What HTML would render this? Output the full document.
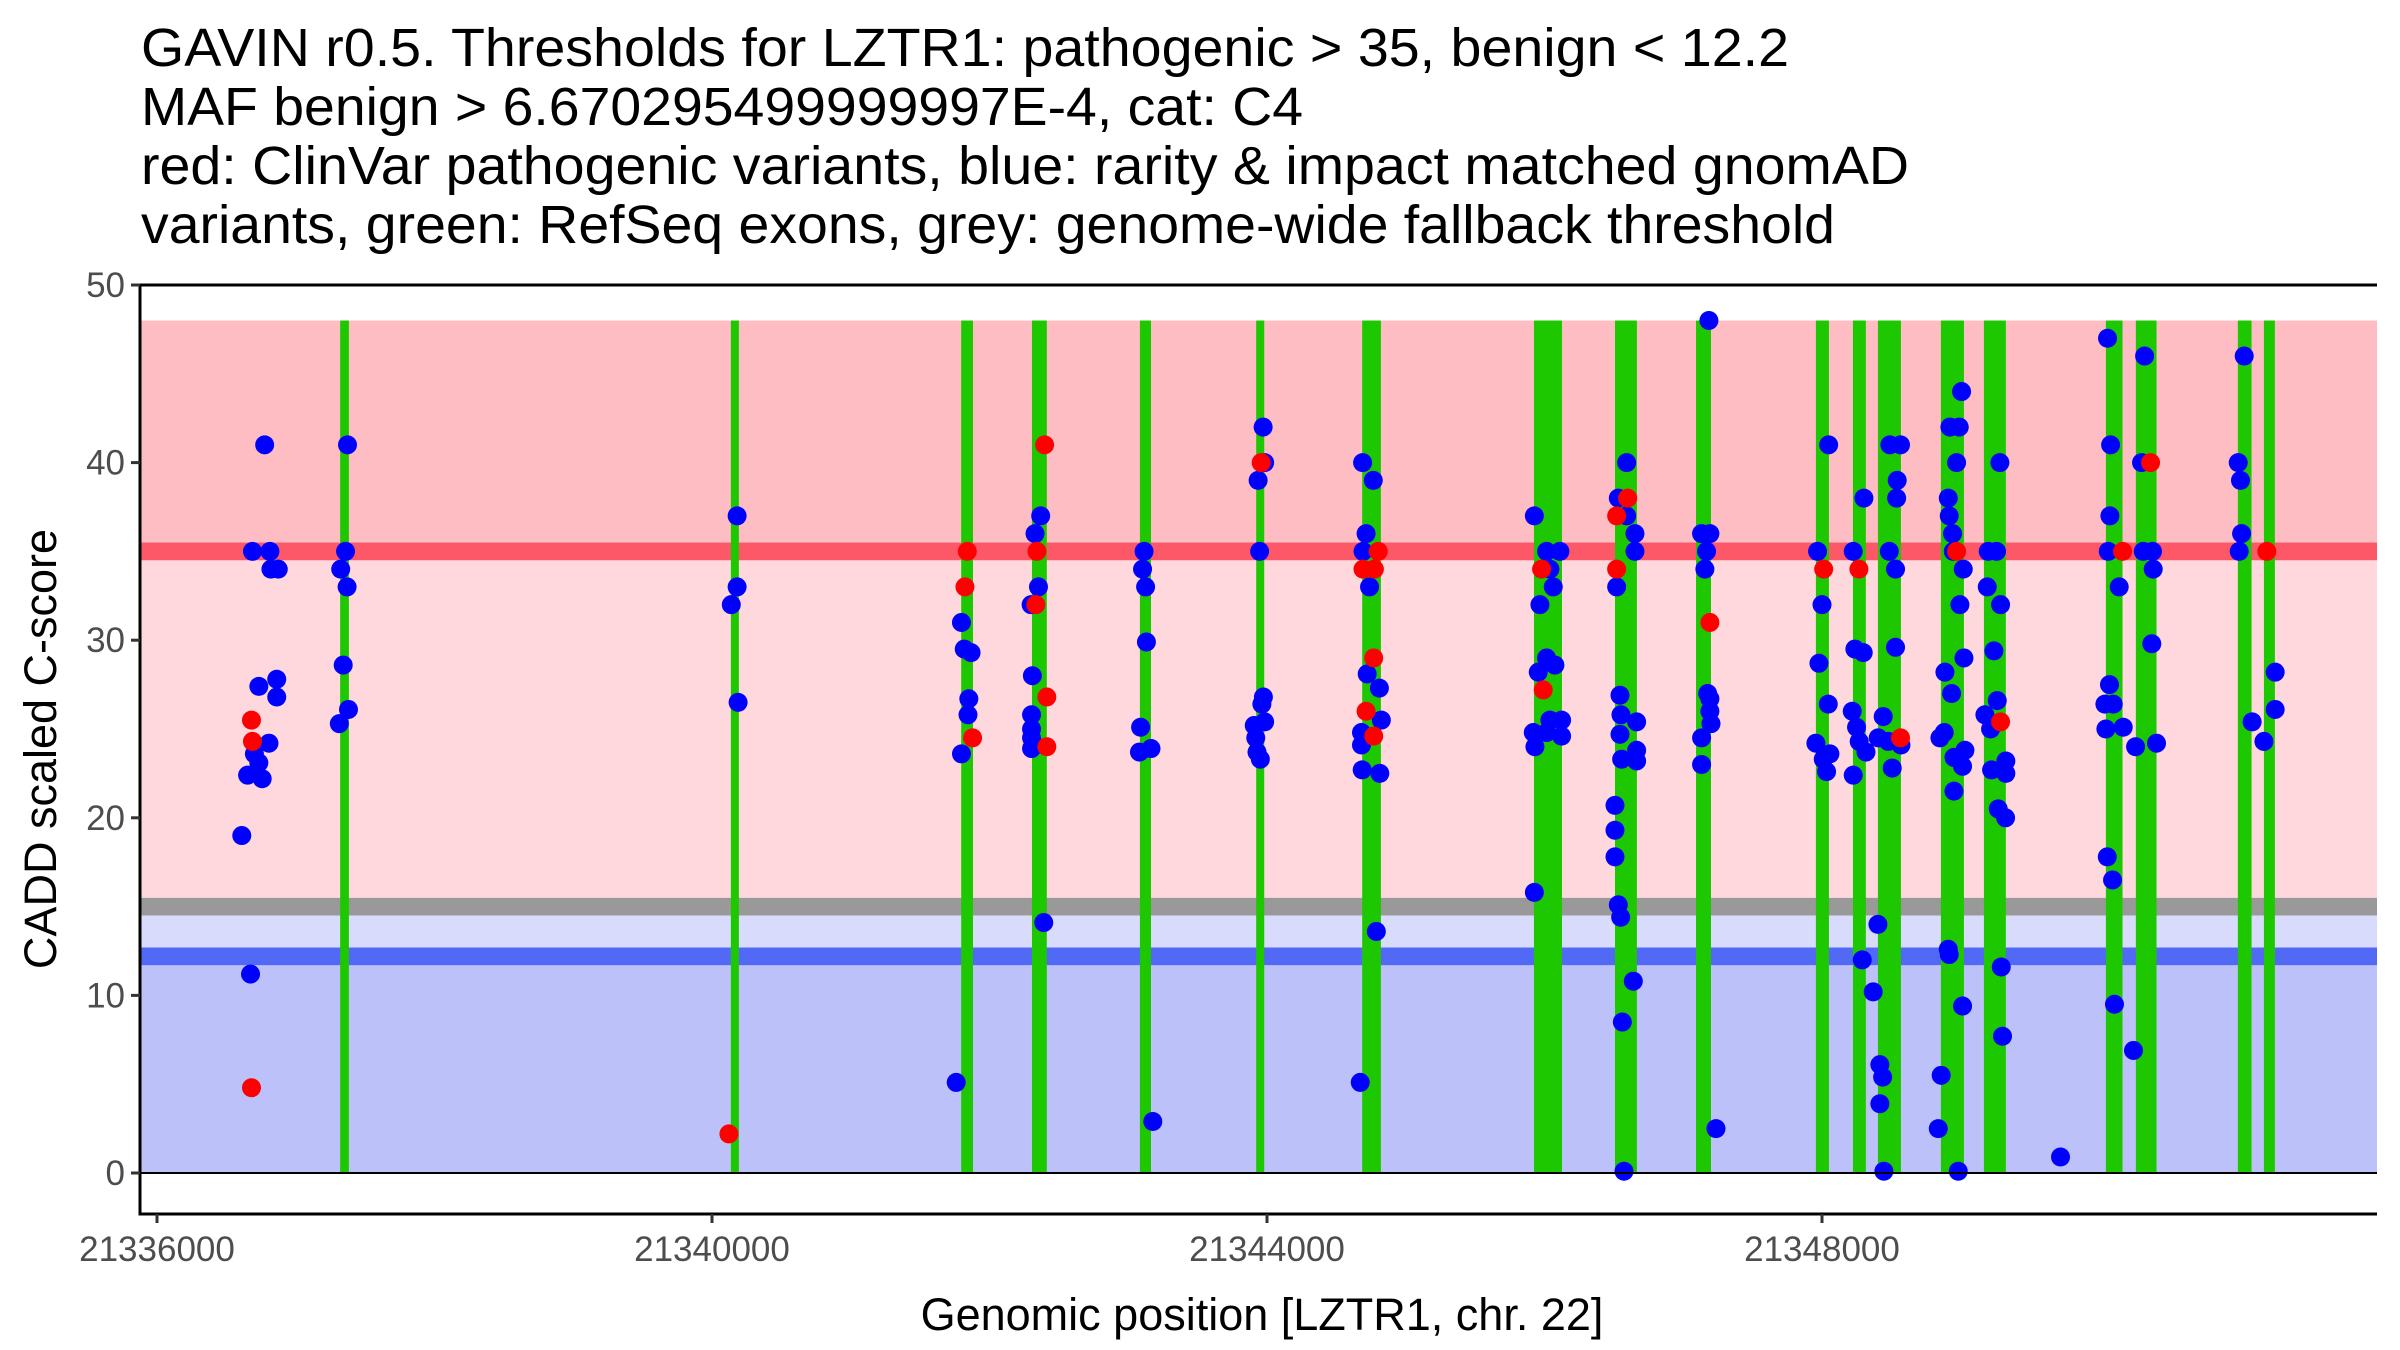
<!DOCTYPE html>
<html><head><meta charset="utf-8"><style>
html,body{margin:0;padding:0;background:#fff;}
svg{display:block;font-family:"Liberation Sans",Arial,sans-serif;}
</style></head><body>
<svg id="chart" width="2400" height="1350" viewBox="0 0 2400 1350">
<g font-size="54" fill="#000">
<text x="141" y="66" textLength="1648" lengthAdjust="spacingAndGlyphs">GAVIN r0.5. Thresholds for LZTR1: pathogenic &gt; 35, benign &lt; 12.2</text>
<text x="141" y="125" textLength="1162" lengthAdjust="spacingAndGlyphs">MAF benign &gt; 6.670295499999997E-4, cat: C4</text>
<text x="141" y="184" textLength="1768" lengthAdjust="spacingAndGlyphs">red: ClinVar pathogenic variants, blue: rarity &amp; impact matched gnomAD</text>
<text x="141" y="243" textLength="1694" lengthAdjust="spacingAndGlyphs">variants, green: RefSeq exons, grey: genome-wide fallback threshold</text>
</g>
<g id="bands"></g><g id="exons"></g><g id="pts"></g><g id="axes"></g>
<text x="1262" y="1330" font-size="45" text-anchor="middle" fill="#000">Genomic position [LZTR1, chr. 22]</text>
<text transform="translate(56,749) rotate(-90)" font-size="45" text-anchor="middle" fill="#000">CADD scaled C-score</text>
</svg>
<script>
const B=21336000;
const exonStart=[1320,4136,5796,6306,7084,7922,8686,9924,10508,11092,11956,12223,12403,12857,13167,14046,14262,14997,15185].map(v=>v+B);
const exonEnd=[1383,4188,5881,6413,7164,7980,8821,10126,10666,11200,12050,12316,12569,13023,13325,14166,14411,15096,15264].map(v=>v+B);
const bluePos=[776,1373,688,814,821,874,734,863,863,807,702,734,653,758,611,674,1359,1324,1370,1342,1380,1314,4181,4181,4139,4188,
5798,5818,5867,5851,5845,5798,5760,6369,6328,6353,6300,6309,6303,6303,6303,6303,6391,7114,7103,7125,7131,7089,7081,7164,7177,7972,7983,7936,7947,7974,7963,7983,7908,7919,7928,7952,8689,8766,8714,8692,8739,8722,8810,8824,8681,8681,8686,8813,8788,8672,
9927,10015,10111,10039,10063,9967,10015,10075,9955,10039,10123,10123,9919,9931,10015,9927,
10592,10532,10592,10652,10652,10520,10544,10551,10664,10544,10664,10556,10664,10508,10508,10508,10532,10549,10640,10561,10573,
11185,11132,11192,11168,11156,11176,11192,11192,11200,11132,11132,11236,
12048,11968,12000,11978,12045,11956,12009,12057,12033,
12302,12225,12237,12297,12218,12249,12268,12317,12225,12290,12369,
12489,12566,12542,12538,12485,12530,12530,12441,12405,12477,12569,12506,12403,12417,12437,12417,12446,
13006,12922,12989,12970,12910,12917,12941,12946,13018,12994,13023,12886,12934,12881,12850,13030,12951,13013,12951,12910,12917,13013,12859,12838,12982,
13282,13198,13258,13191,13287,13239,13263,13174,13215,13325,13222,13325,13270,13323,13292,13301,13719,
14058,14080,14075,14063,14142,14072,14039,14099,14046,14171,14056,14094,14108,
14325,14303,14315,14382,14387,14377,14260,14411,14245,
15043,15000,15016,15024,15007,15100,15266,15266,15185].map(v=>v+B);
const blueScore=[41.0,41.0,35.0,35.0,34.0,34.0,27.4,27.8,26.8,24.2,23.6,23.1,22.4,22.2,19.0,11.2,35.0,34.0,33.0,28.6,26.1,25.3,37.0,33.0,32.0,26.5,
31.0,29.5,29.3,26.7,25.8,23.6,5.1,37.0,36.0,33.0,32.0,28.0,25.8,25.0,24.5,23.9,14.1,35.0,34.0,33.0,29.9,25.1,23.7,23.9,2.9,42.0,40.0,39.0,35.0,26.8,26.4,25.4,25.2,24.5,23.7,23.3,40.0,39.0,36.0,35.0,33.0,28.1,27.3,25.5,24.8,24.1,22.7,22.5,13.6,5.1,
37.0,35.0,35.0,34.0,33.0,32.0,29.0,28.6,28.2,25.5,25.5,24.6,24.8,24.0,24.8,15.8,
40.0,38.0,37.0,36.0,35.0,33.0,26.9,25.8,25.4,24.7,23.8,23.3,23.2,20.7,19.3,17.8,15.1,14.4,10.8,8.5,0.1,
48.0,36.0,36.0,35.0,34.0,27.0,26.7,26.0,25.3,24.5,23.0,2.5,
41.0,35.0,32.0,28.7,26.4,24.2,23.3,23.6,22.6,
38.0,35.0,29.5,29.3,26.0,25.1,24.3,23.7,22.4,12.0,10.2,
41.0,41.0,39.0,38.0,35.0,34.0,29.6,25.7,24.5,24.3,24.1,22.8,14.0,6.1,5.4,3.9,0.1,
44.0,42.0,42.0,40.0,38.0,37.0,36.0,35.0,34.0,32.0,29.0,28.2,27.0,24.8,24.5,23.8,23.4,22.9,21.5,12.6,12.3,9.4,5.5,2.5,0.1,
40.0,35.0,35.0,33.0,32.0,29.4,26.6,25.8,25.0,23.2,22.7,22.5,20.5,20.0,11.6,7.7,0.9,
47.0,41.0,37.0,35.0,33.0,27.5,26.4,26.4,25.0,25.1,17.8,16.5,9.5,
46.0,40.0,35.0,35.0,34.0,29.8,24.0,24.2,6.9,
46.0,40.0,39.0,36.0,35.0,25.4,28.2,26.1,24.3];
const redPos=[681,688,681,4122,5840,5823,5878,6397,6342,6334,6413,6413,7958,8802,8692,8774,8769,8714,8769,9979,9991,10599,10520,10520,11192,12012,12266,12566,12970,13287,14166,14368,15206].map(v=>v+B);
const redScore=[25.5,24.3,4.8,2.2,35.0,33.0,24.5,41.0,35.0,32.0,26.8,24.0,40.0,35.0,34.0,34.0,29.0,26.0,24.6,34.0,27.2,38.0,37.0,34.0,31.0,34.0,34.0,24.5,35.0,25.4,35.0,40.0,35.0];
const yTicks=[0,10,20,30,40,50];
const xTicks=[21336000,21340000,21344000,21348000];
const bandLo=[0,11.7,12.7,14.5,15.5,34.5,35.5];
const bandHi=[11.7,12.7,14.5,15.5,34.5,35.5,48];
const bandCol=['#bcc2f9','#5169f4','#d8dbfc','#999999','#fed8dc','#fc5868','#fdbdc2'];
const bandNames=['benign-region','benign-threshold-line','uncertain-benign-region','fallback-threshold-line','uncertain-pathogenic-region','pathogenic-threshold-line','pathogenic-region'];

const L=140,R=2377,T=285,BOT=1214;
const X=v=>157+(v-21336000)*0.13875;
const Y=v=>1173-17.76*v;
const NS='http://www.w3.org/2000/svg';
function mk(tag,attrs,parent){const e=document.createElementNS(NS,tag);for(const k in attrs)e.setAttribute(k,attrs[k]);parent.appendChild(e);return e;}
const gb=document.getElementById('bands'),ge=document.getElementById('exons'),gp=document.getElementById('pts'),ga=document.getElementById('axes');
for(let i=0;i<bandLo.length;i++){
  const r=mk('rect',{x:L,y:Y(bandHi[i]),width:R-L,height:Y(bandLo[i])-Y(bandHi[i]),fill:bandCol[i]},gb);
  
  
}
for(let i=0;i<exonStart.length;i++){
  const x0=X(exonStart[i]),x1=X(exonEnd[i]);
  const r=mk('rect',{x:x0,y:Y(48),width:Math.max(8,x1-x0),height:Y(0)-Y(48),fill:'#1ec800'},ge);
  
  
}
for(let i=0;i<bluePos.length;i++){
  const c=mk('circle',{cx:X(bluePos[i]),cy:Y(blueScore[i]),r:9.5,fill:'#0000ff'},gp);
  
  
}
for(let i=0;i<redPos.length;i++){
  const c=mk('circle',{cx:X(redPos[i]),cy:Y(redScore[i]),r:9.5,fill:'#ff0000'},gp);
  
  
}
let a=mk('line',{x1:L,y1:T,x2:L,y2:BOT+1.5,stroke:'#000','stroke-width':3},ga);


a=mk('line',{x1:L-1.5,y1:BOT,x2:R,y2:BOT,stroke:'#000','stroke-width':3},ga);


a=mk('line',{x1:L,y1:T,x2:R,y2:T,stroke:'#000','stroke-width':3},ga);


a=mk('line',{x1:L,y1:Y(0),x2:R,y2:Y(0),stroke:'#000','stroke-width':2},ga);


yTicks.forEach(v=>{
  const t=mk('line',{x1:L-9,y1:Y(v),x2:L,y2:Y(v),stroke:'#333','stroke-width':3},ga);
  
  
  const tx=mk('text',{x:L-15,y:Y(v)+12,'font-size':35,'text-anchor':'end',fill:'#4d4d4d'},ga);
  tx.textContent=v;
  
  
});
xTicks.forEach(v=>{
  const t=mk('line',{x1:X(v),y1:BOT,x2:X(v),y2:BOT+9,stroke:'#333','stroke-width':3},ga);
  
  
  const tx=mk('text',{x:X(v),y:BOT+47,'font-size':35,'text-anchor':'middle',fill:'#4d4d4d'},ga);
  tx.textContent=v;
  
  
});
</script>
</body></html>
